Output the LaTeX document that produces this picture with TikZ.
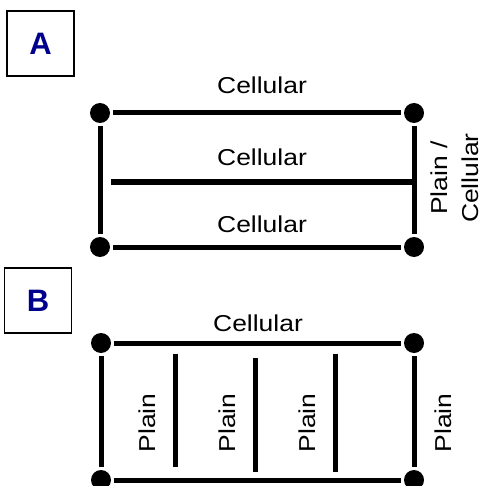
\documentclass[tikz,border=0pt]{standalone}
\usepackage{fontspec}
\setmainfont{Liberation Sans}
\newfontfamily\labelfont{Liberation Sans}[FakeStretch=1.15]
\usepackage{xcolor}
\usepackage{tikz}
\usetikzlibrary{positioning}
\definecolor{panelblue}{RGB}{0,0,140}

\begin{document}
\begin{tikzpicture}[x=1pt, y=-1pt,
	dot/.style={circle, fill=black, inner sep=0pt, minimum size=20pt, outer sep=3pt},
	wire/.style={line width=5pt},
	txt/.style={font=\labelfont\fontsize{23}{31}\selectfont, inner sep=0pt},
	panel/.style={draw=black, line width=1.5pt, minimum width=67pt, minimum height=65pt,
		font=\bfseries\fontsize{31}{36}\selectfont, text=panelblue}]
	\useasboundingbox (0,0) rectangle (483,486);
	% panel A
	\node[panel] (panelA) at (40.5,43.5) {A};
	\node[dot] (dotA1) at (100,113) {};
	\node[dot] (dotA2) at (414,113) {};
	\node[dot] (dotA3) at (100,247) {};
	\node[dot] (dotA4) at (414,247) {};
	\coordinate (midA1) at (111,182);
	\coordinate (midA2) at (414,182);
	\draw[wire] (dotA1) -- (dotA2);
	\draw[wire] (dotA3) -- (dotA4);
	\draw[wire] (dotA1) -- (dotA3);
	\draw[wire] (dotA2) -- (dotA4);
	\draw[wire] (midA1) -- (midA2);
	\node[txt] (cellA1) at (262,85) {Cellular};
	\node[txt] (cellA2) at (262,157) {Cellular};
	\node[txt] (cellA3) at (262,224) {Cellular};
	\node[txt, align=center, rotate=90] (sideA) at (455,178) {Plain /\\Cellular};
	% panel B
	\node[panel] (panelB) at (38,300.5) {B};
	\node[dot] (dotB1) at (101,343) {};
	\node[dot] (dotB2) at (414,343) {};
	\node[dot] (dotB3) at (101,480) {};
	\node[dot] (dotB4) at (414,480) {};
	\coordinate (barB1t) at (175,354);
	\coordinate (barB1b) at (175,467);
	\coordinate (barB2t) at (255,358);
	\coordinate (barB2b) at (255,472);
	\coordinate (barB3t) at (335,354);
	\coordinate (barB3b) at (335,472);
	\draw[wire] (dotB1) -- (dotB2);
	\draw[wire] (dotB3) -- (dotB4);
	\draw[wire] (dotB1) -- (dotB3);
	\draw[wire] (dotB2) -- (dotB4);
	\draw[wire] (barB1t) -- (barB1b);
	\draw[wire] (barB2t) -- (barB2b);
	\draw[wire] (barB3t) -- (barB3b);
	\node[txt] (cellB) at (258,323) {Cellular};
	\node[txt, rotate=90] (plainB1) at (147,423) {Plain};
	\node[txt, rotate=90] (plainB2) at (227,423) {Plain};
	\node[txt, rotate=90] (plainB3) at (307,423) {Plain};
	\node[txt, rotate=90] (plainB4) at (443,423) {Plain};
\end{tikzpicture}
\end{document}
